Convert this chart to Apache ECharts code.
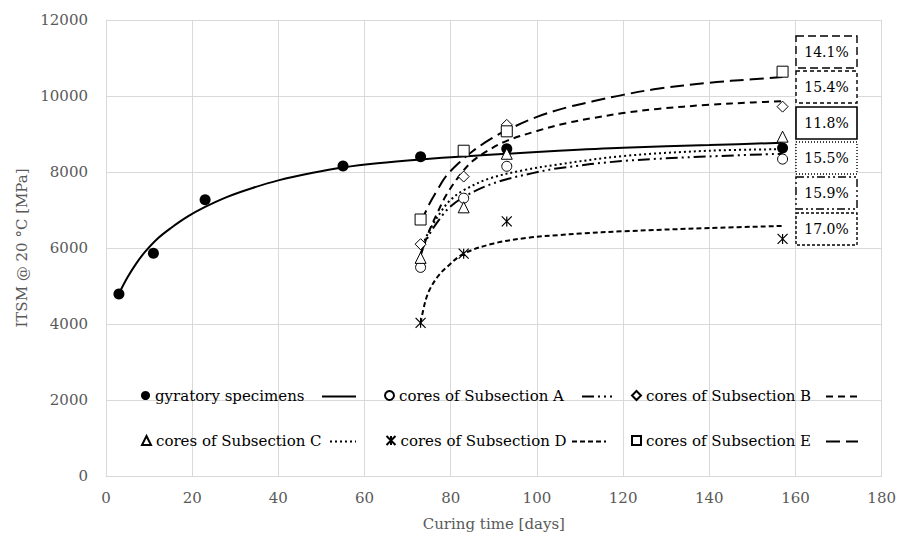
<!DOCTYPE html>
<html>
<head>
<meta charset="utf-8">
<script src="https://cdn.jsdelivr.net/npm/echarts@6/dist/echarts.min.js"></script>
<style>html,body{margin:0;padding:0;background:#fff}#c{width:899px;height:542px}</style>
</head>
<body>
<div id="c"></div>
<script>
// ---- data ----
var gyrDays = [3, 11, 23, 55, 73, 93, 157];
var gyrVals = [4790, 5860, 7270, 8160, 8400, 8610, 8630];
var coreDays = [73, 83, 93, 157];
var valsA = [5490, 7310, 8150, 8340];
var valsB = [6100, 7880, 9240, 9720];
var valsC = [5740, 7070, 8480, 8930];
var valsD = [4030, 5850, 6700, 6240];
var valsE = [6750, 8560, 9070, 10640];
// trend lines: [day, MPa]
var trendGyr = [[3,4800],[5,5230],[7,5590],[9,5890],[12,6250],[15,6520],[19,6830],[23,7080],[28,7340],[34,7580],[40,7780],[48,7980],[55,8120],[63,8230],[73,8330],[83,8410],[93,8480],[105,8560],[120,8640],[140,8710],[157,8770]];
var trendA = [[73,5850],[75,6350],[78,6850],[80,7100],[83,7340],[88,7620],[93,7810],[99,7970],[105,8100],[120,8290],[140,8410],[157,8480]];
var trendB = [[73,5800],[75,6450],[77,6950],[79,7400],[82,7900],[85,8280],[89,8590],[93,8820],[100,9080],[107,9290],[113,9420],[120,9550],[128,9660],[140,9770],[150,9830],[157,9860]];
var trendC = [[73,5950],[75,6450],[78,7000],[80,7270],[83,7520],[89,7830],[97,8050],[105,8200],[120,8420],[140,8560],[157,8600]];
var trendD = [[73,4030],[74,4550],[75,4880],[77,5250],[79,5490],[83,5850],[90,6120],[98,6270],[105,6340],[110,6380],[120,6440],[140,6525],[157,6580]];
var trendE = [[73,6650],[75,7150],[77,7550],[79,7900],[82,8250],[85,8540],[89,8850],[93,9100],[100,9450],[107,9700],[113,9860],[120,10030],[128,10190],[140,10350],[150,10440],[157,10500]];
var seriesNames = ['gyratory specimens','cores of Subsection A','cores of Subsection B','cores of Subsection C','cores of Subsection D','cores of Subsection E'];
var boxLabels = ['14.1%','15.4%','11.8%','15.5%','15.9%','17.0%'];
var xTicks = [0, 20, 40, 60, 80, 100, 120, 140, 160, 180];
var yTicks = [0, 2000, 4000, 6000, 8000, 10000, 12000];

// ---- styles ----
var FONT = 'DejaVu Serif';
var GRAY = '#595959';
var dashA = [12, 4, 2, 4, 2, 4];
var dashB = [7, 5];
var dashC = [2, 3];
var dashD = [5, 3];
var dashE = [14, 6];
var asterisk = 'path://M0,0 L10,10 M10,0 L0,10 M5,0 L5,10';

function pairs(xs, ys){ return xs.map(function(x,i){ return [x, ys[i]]; }); }
function trend(name, data, dash){
  return {type:'line', name:name, data:data, smooth:0.35, showSymbol:false, symbol:'none',
    lineStyle:{color:'#000', width:2, type: dash || 'solid'}, silent:true, z:2};
}
function scat(name, data, symbol, size, fill, bw){
  return {type:'scatter', name:name, data:data, symbol:symbol, symbolSize:size, z:5,
    itemStyle:{color:fill, borderColor:'#000', borderWidth:bw, opacity:1}};
}

var series = [
  trend('t0', trendGyr, 'solid'),
  trend('t1', trendA, dashA),
  trend('t2', trendB, dashB),
  trend('t3', trendC, dashC),
  trend('t4', trendD, dashD),
  trend('t5', trendE, dashE),
  scat(seriesNames[0], pairs(gyrDays, gyrVals), 'circle', 11, '#000', 0),
  scat(seriesNames[1], pairs(coreDays, valsA), 'circle', 10, '#fff', 1),
  scat(seriesNames[2], pairs(coreDays, valsB), 'diamond', 11, '#fff', 1),
  scat(seriesNames[3], pairs(coreDays, valsC), 'triangle', 11, '#fff', 1),
  scat(seriesNames[4], pairs(coreDays, valsD), asterisk, 10, 'none', 1.2),
  scat(seriesNames[5], pairs(coreDays, valsE), 'rect', 11, '#fff', 1)
];

var legCols = [141, 384, 631];
var legRows = [388, 433];
var legends = seriesNames.map(function(n, i){
  return {data:[n], left: legCols[i % 3], top: legRows[Math.floor(i / 3)], padding:0,
    itemWidth:9, itemHeight:9, itemGap:5, selectedMode:false,
    textStyle:{fontFamily:FONT, fontSize:15, color:'#000'}};
});

var sampleDash = ['solid', dashA, dashB, dashC, dashD, dashE];
var sampleX = [[322,356],[582,612],[826,860],[330,356],[572,606],[826,858]];
var graphics = [];
sampleX.forEach(function(s, i){
  var y = legRows[Math.floor(i / 3)] + 8.5;
  graphics.push({type:'line', shape:{x1:s[0], y1:y, x2:s[1], y2:y},
    style:{stroke:'#000', lineWidth:2, lineDash: i === 0 ? null : sampleDash[i]}});
});
var boxDash = [[8,4],[4,3],null,[1,2],[8,3,2,3,2,3],[3,2]];
var boxTops = [36, 71, 107, 142, 177, 213];
boxLabels.forEach(function(t, i){
  graphics.push({type:'rect', shape:{x:796, y:boxTops[i], width:61, height:32},
    style:{fill:'#fff', stroke:'#000', lineWidth: i === 2 ? 1.6 : 1.4, lineDash: boxDash[i]}, z:10});
  graphics.push({type:'text', x:826.5, y:boxTops[i] + 16, z:11,
    style:{text:t, fill:'#000', font:'14px "' + FONT + '"', textAlign:'center', textVerticalAlign:'middle'}});
});

var chart = echarts.init(document.getElementById('c'), null, {renderer:'svg'});
chart.setOption({
  animation:false,
  backgroundColor:'#fff',
  grid:{left:106, right:14, top:20, bottom:66},
  xAxis:{type:'value', min:xTicks[0], max:xTicks[xTicks.length-1], interval:xTicks[1]-xTicks[0],
    axisLine:{lineStyle:{color:'#d9d9d9'}}, axisTick:{show:false},
    axisLabel:{color:GRAY, fontFamily:FONT, fontSize:15, margin:14, formatter:function(v){return String(v);}},
    splitLine:{show:true, lineStyle:{color:'#d9d9d9'}},
    name:'Curing time [days]', nameLocation:'middle', nameGap:40,
    nameTextStyle:{color:GRAY, fontFamily:FONT, fontSize:15}},
  yAxis:{type:'value', min:yTicks[0], max:yTicks[yTicks.length-1], interval:yTicks[1]-yTicks[0],
    axisLine:{show:true, lineStyle:{color:'#d9d9d9'}}, axisTick:{show:false},
    axisLabel:{color:GRAY, fontFamily:FONT, fontSize:15, margin:18, formatter:function(v){return String(v);}},
    splitLine:{show:true, lineStyle:{color:'#d9d9d9'}},
    name:'ITSM @ 20 °C [MPa]', nameLocation:'middle', nameGap:73,
    nameTextStyle:{color:GRAY, fontFamily:FONT, fontSize:15}},
  legend: legends,
  graphic: graphics,
  series: series
});
</script>
</body>
</html>
